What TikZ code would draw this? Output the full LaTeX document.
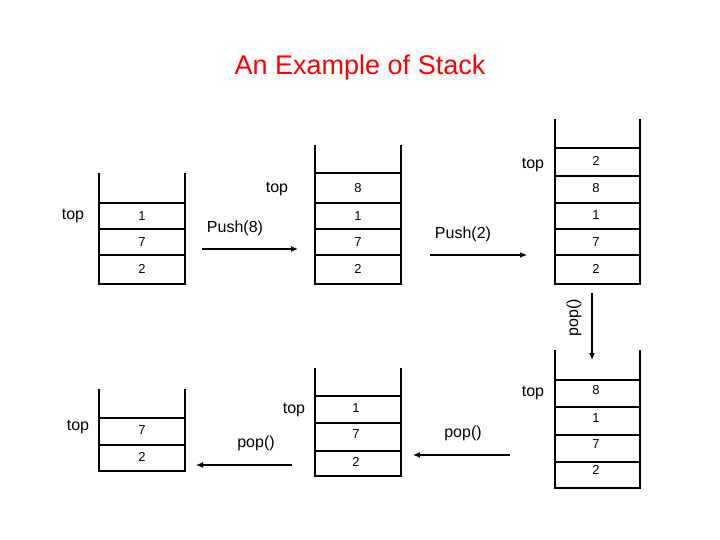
\documentclass[tikz,border=0pt]{standalone}
\usepackage{fontspec}
\setmainfont{Liberation Sans}
\usetikzlibrary{arrows.meta}
\begin{document}
\begin{tikzpicture}[x=1pt,y=-1pt,
  wall/.style={line width=2.4pt},
  cell/.style={line width=1.6pt},
  val/.style={font=\fontsize{13}{13}\selectfont},
  lab/.style={font=\fontsize{16}{16}\selectfont},
  arr/.style={line width=1.1pt,-{Latex[length=7pt,width=6pt]}}]
\useasboundingbox (0,0) rectangle (720,540);
\node[text=red,font=\fontsize{27}{27}\selectfont] (title) at (360,68) {An Example of Stack};
% stack 1
\draw[wall] (99,173) -- (99,284) -- (185,284) -- (185,173);
\foreach \y in {203,229,255} \draw[cell] (99,\y) -- (185,\y);
\node[val] (a1) at (142,216) {1};\node[val] (a2) at (142,242) {7};\node[val] (a3) at (142,269) {2};
\node[lab] (ta) at (73,216) {top};
% stack 2
\draw[wall] (315,145) -- (315,284) -- (401,284) -- (401,145);
\foreach \y in {173,203,229,255} \draw[cell] (315,\y) -- (401,\y);
\node[val] (b0) at (358,188) {8};\node[val] (b1) at (358,216) {1};\node[val] (b2) at (358,242) {7};\node[val] (b3) at (358,269) {2};
\node[lab] (tb) at (277,189) {top};
% stack 3
\draw[wall] (555,119) -- (555,284) -- (640,284) -- (640,119);
\foreach \y in {148,176,203,229,255} \draw[cell] (555,\y) -- (640,\y);
\node[val] (c0) at (596,161) {2};\node[val] (c1) at (596,188) {8};\node[val] (c2) at (596,215) {1};\node[val] (c3) at (596,242) {7};\node[val] (c4) at (596,269) {2};
\node[lab] (tc) at (533,165) {top};
% push arrows
\coordinate (p1s) at (202,249);\coordinate (p1e) at (298,249);
\draw[arr] (p1s) -- (p1e);\node[lab] (l1) at (235,228) {Push(8)};
\coordinate (p2s) at (430,255);\coordinate (p2e) at (527,255);
\draw[arr] (p2s) -- (p2e);\node[lab] (l2) at (463,234) {Push(2)};
% vertical pop
\coordinate (vs) at (592,293);\coordinate (ve) at (592,360);
\draw[arr] (vs) -- (ve);\node[lab,rotate=90] (l3) at (574,318) {pop()};
% bottom stack 3
\draw[wall] (555,350) -- (555,488) -- (640,488) -- (640,350);
\foreach \y in {380,407,435,462} \draw[cell] (555,\y) -- (640,\y);
\node[val] (d0) at (596,390) {8};\node[val] (d1) at (596,418) {1};\node[val] (d2) at (596,444) {7};\node[val] (d3) at (596,470) {2};
\node[lab] (td) at (533,393) {top};
% bottom stack 2
\draw[wall] (315,368) -- (315,476) -- (401,476) -- (401,368);
\foreach \y in {396,423,451} \draw[cell] (315,\y) -- (401,\y);
\node[val] (e1) at (356,408) {1};\node[val] (e2) at (356,434) {7};\node[val] (e3) at (356,462) {2};
\node[lab] (te) at (294,410) {top};
% bottom stack 1
\draw[wall] (99,389) -- (99,471) -- (185,471) -- (185,389);
\foreach \y in {418,445} \draw[cell] (99,\y) -- (185,\y);
\node[val] (f1) at (142,430) {7};\node[val] (f2) at (142,457) {2};
\node[lab] (tf) at (78,427) {top};
% pop arrows
\coordinate (q1s) at (510,455);\coordinate (q1e) at (413,455);
\draw[arr] (q1s) -- (q1e);\node[lab] (l4) at (463,433) {pop()};
\coordinate (q2s) at (292,465);\coordinate (q2e) at (196,465);
\draw[arr] (q2s) -- (q2e);\node[lab] (l5) at (256,443) {pop()};
\end{tikzpicture}
\end{document}
